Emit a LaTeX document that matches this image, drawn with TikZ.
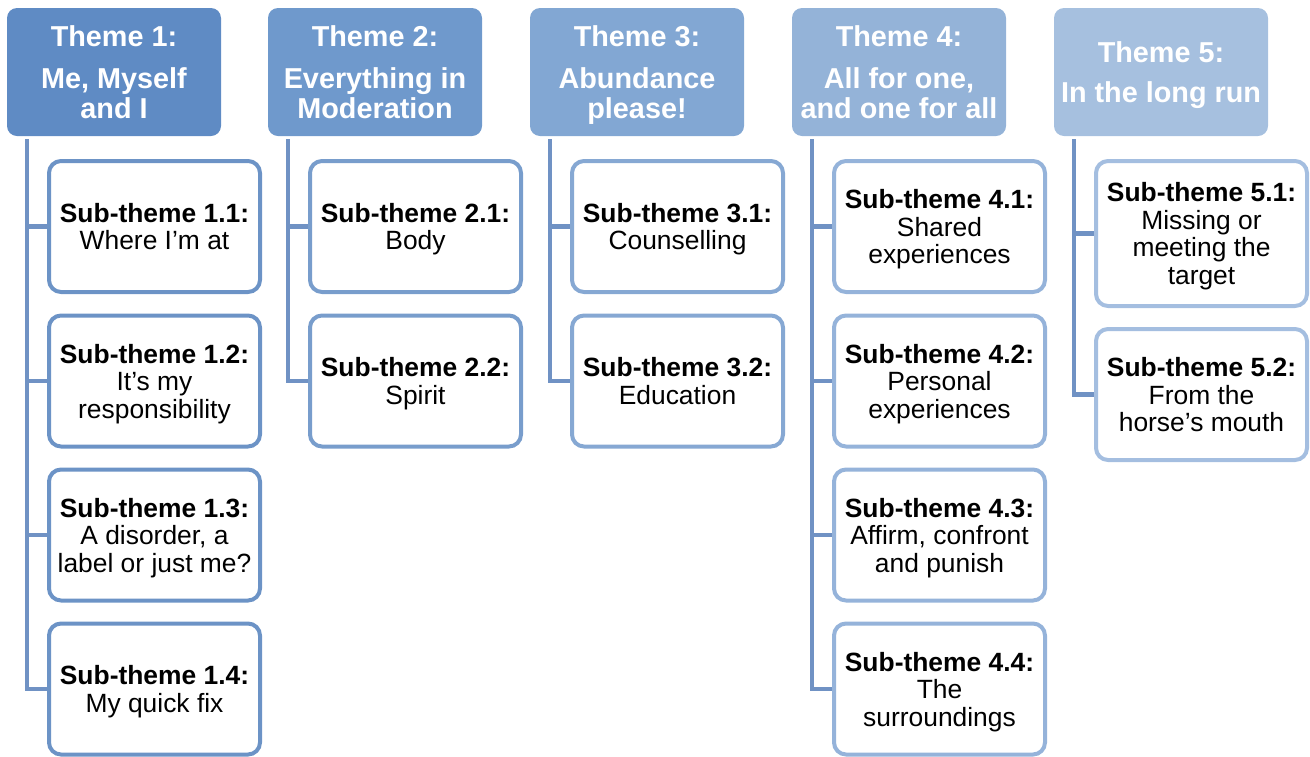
\documentclass[tikz,border=0pt]{standalone}
\usepackage{fontspec}
\setmainfont{Liberation Sans}
\usepackage{xcolor}
\usepackage{tikz}
\definecolor{themeblue1}{HTML}{5F8BC4}
\definecolor{themeblue2}{HTML}{6F99CC}
\definecolor{themeblue3}{HTML}{82A7D3}
\definecolor{themeblue4}{HTML}{94B3D8}
\definecolor{themeblue5}{HTML}{A6C0DF}
\definecolor{subblue1}{HTML}{6C93C6}
\definecolor{subblue2}{HTML}{789DCC}
\definecolor{subblue3}{HTML}{86A8D3}
\definecolor{subblue4}{HTML}{95B3DA}
\definecolor{subblue5}{HTML}{A4BEE0}
\definecolor{linkblue}{HTML}{7092C4}
\tikzset{
	theme/.style = {rectangle, rounded corners = 10pt, text = white, align = center, inner sep = 0pt, text depth = 0pt, minimum width = 214pt, minimum height = 128pt, font = \fontsize{28.8}{30}\selectfont\bfseries},
	subtheme/.style = {draw, rectangle, rounded corners = 12pt, line width = 4pt, fill = white, align = center, inner sep = 0pt, text depth = 0pt, minimum width = 211pt, minimum height = 131pt, font = \fontsize{26.4}{27.5}\selectfont},
	link/.style = {line width = 4.5pt, draw = linkblue}
}

\begin{document}
\begin{tikzpicture}[x = 1pt, y = -1pt]
			\useasboundingbox (0,0) rectangle (1310,756);
			
			\node[theme, fill = themeblue1] (t1) at (114,72) {Theme 1:\\[12pt]Me, Myself\\and I};
			\node[theme, fill = themeblue2] (t2) at (375,72) {Theme 2:\\[12pt]Everything in\\Moderation};
			\node[theme, fill = themeblue3] (t3) at (637,72) {Theme 3:\\[12pt]Abundance\\please!};
			\node[theme, fill = themeblue4] (t4) at (899,72) {Theme 4:\\[12pt]All for one,\\and one for all};
			\node[theme, fill = themeblue5] (t5) at (1161,72) {Theme 5:\\[10pt]In the long run};
			
			\node[subtheme, draw = subblue1] (s11) at (154.5,226.5) {\textbf{Sub-theme 1.1:}\\Where I’m at};
			\node[subtheme, draw = subblue1] (s12) at (154.5,381) {\textbf{Sub-theme 1.2:}\\It’s my\\responsibility};
			\node[subtheme, draw = subblue1] (s13) at (154.5,535) {\textbf{Sub-theme 1.3:}\\A disorder, a\\label or just me?};
			\node[subtheme, draw = subblue1] (s14) at (154.5,689) {\textbf{Sub-theme 1.4:}\\My quick fix};
			
			\node[subtheme, draw = subblue2] (s21) at (415.5,226.5) {\textbf{Sub-theme 2.1:}\\Body};
			\node[subtheme, draw = subblue2] (s22) at (415.5,381) {\textbf{Sub-theme 2.2:}\\Spirit};
			
			\node[subtheme, draw = subblue3] (s31) at (677.5,226.5) {\textbf{Sub-theme 3.1:}\\Counselling};
			\node[subtheme, draw = subblue3] (s32) at (677.5,381) {\textbf{Sub-theme 3.2:}\\Education};
			
			\node[subtheme, draw = subblue4] (s41) at (939.5,226.5) {\textbf{Sub-theme 4.1:}\\Shared\\experiences};
			\node[subtheme, draw = subblue4] (s42) at (939.5,381) {\textbf{Sub-theme 4.2:}\\Personal\\experiences};
			\node[subtheme, draw = subblue4] (s43) at (939.5,535) {\textbf{Sub-theme 4.3:}\\Affirm, confront\\and punish};
			\node[subtheme, draw = subblue4] (s44) at (939.5,689) {\textbf{Sub-theme 4.4:}\\The\\surroundings};
			
			\node[subtheme, draw = subblue5, minimum height = 145pt] (s51) at (1201.5,233.5) {\textbf{Sub-theme 5.1:}\\Missing or\\meeting the\\target};
			\node[subtheme, draw = subblue5] (s52) at (1201.5,394.5) {\textbf{Sub-theme 5.2:}\\From the\\horse’s mouth};
			
			% links from each theme down to its sub-themes
			\foreach \s in {s11,s12,s13,s14} \draw[link] ([xshift = 20pt, yshift = -3pt]t1.south west) |- (\s.west);
			\foreach \s in {s21,s22} \draw[link] ([xshift = 20pt, yshift = -3pt]t2.south west) |- (\s.west);
			\foreach \s in {s31,s32} \draw[link] ([xshift = 20pt, yshift = -3pt]t3.south west) |- (\s.west);
			\foreach \s in {s41,s42,s43,s44} \draw[link] ([xshift = 20pt, yshift = -3pt]t4.south west) |- (\s.west);
			\foreach \s in {s51,s52} \draw[link] ([xshift = 20pt, yshift = -3pt]t5.south west) |- (\s.west);
			
\end{tikzpicture}
\end{document}
